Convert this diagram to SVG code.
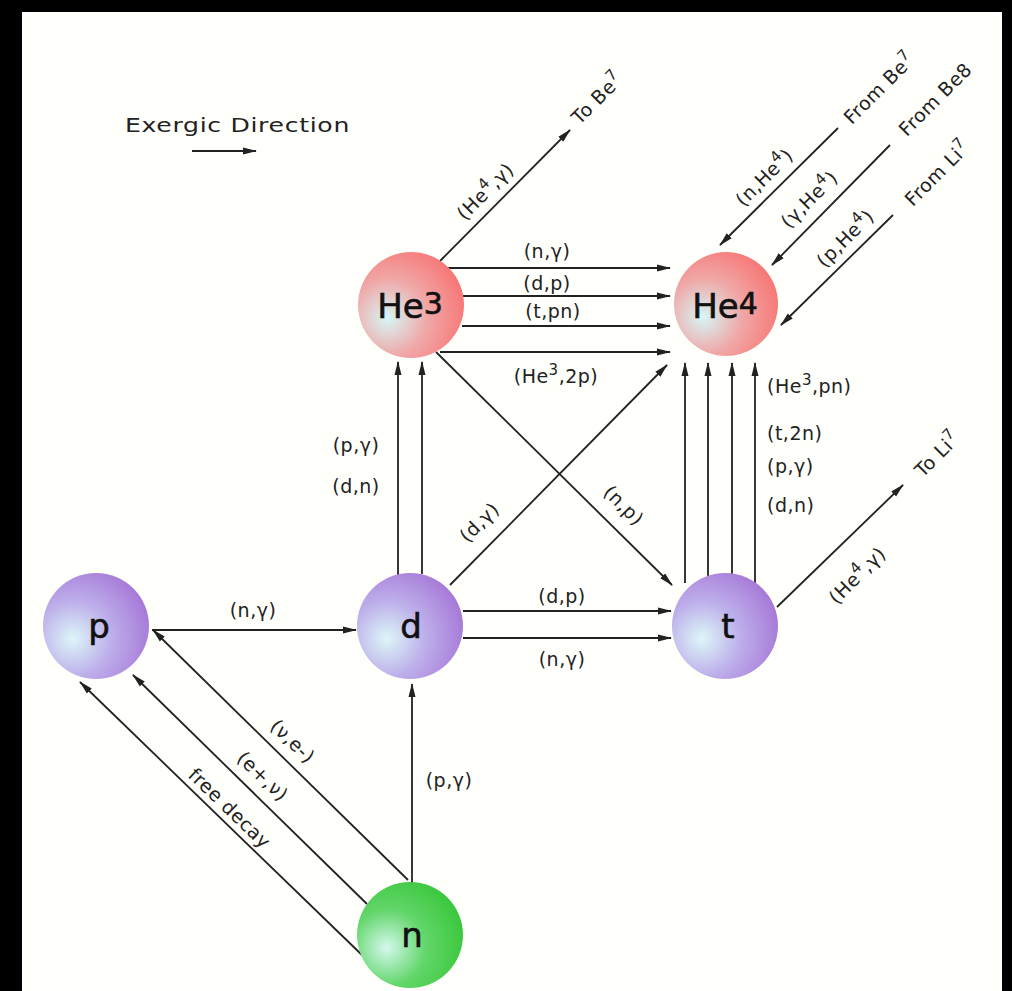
<svg xmlns="http://www.w3.org/2000/svg" width="1012" height="991" viewBox="0 0 1012 991">
<defs>
<style>
.ln{stroke:#222;stroke-width:1.8;fill:none;marker-end:url(#ah)}
.lb{font-family:"DejaVu Sans","Liberation Sans",sans-serif;font-size:19px;fill:#222;letter-spacing:0.5px}
.nd{font-family:"DejaVu Sans","Liberation Sans",sans-serif;font-size:34px;fill:#111;stroke:#111;stroke-width:0.6}
.sp{font-size:15px}
</style>
<marker id="ah" markerUnits="userSpaceOnUse" markerWidth="14" markerHeight="8" refX="13" refY="4" orient="auto">
<path d="M0,0.5 L14,4 L0,7.5 z" fill="#222"/>
</marker>
<radialGradient id="gP" cx="0.3" cy="0.62" r="0.8" fx="0.28" fy="0.62">
<stop offset="0" stop-color="#dcf6f8"/>
<stop offset="0.45" stop-color="#bdaeea"/>
<stop offset="1" stop-color="#a26fd4"/>
</radialGradient>
<radialGradient id="gR" cx="0.3" cy="0.62" r="0.8" fx="0.28" fy="0.62">
<stop offset="0" stop-color="#d6f6f6"/>
<stop offset="0.45" stop-color="#f0a8a8"/>
<stop offset="1" stop-color="#f86e6c"/>
</radialGradient>
<radialGradient id="gG" cx="0.3" cy="0.62" r="0.8" fx="0.28" fy="0.62">
<stop offset="0" stop-color="#d4f8ec"/>
<stop offset="0.45" stop-color="#62d66a"/>
<stop offset="1" stop-color="#34c434"/>
</radialGradient>
</defs>
<rect x="0" y="0" width="1012" height="991" fill="#000"/>
<rect x="22" y="12" width="980" height="979" fill="#fffffb"/>

<g id="legend">
<text class="lb" x="125" y="132" font-size="24" letter-spacing="0" textLength="225" lengthAdjust="spacingAndGlyphs">Exergic Direction</text>
<line class="ln" x1="192" y1="151" x2="256" y2="151" stroke-width="2.5"/>
</g>

<g id="connectors">
<line class="ln" x1="152" y1="630" x2="356" y2="630"/>
<line class="ln" x1="463" y1="611" x2="671" y2="611"/>
<line class="ln" x1="463" y1="638" x2="671" y2="638"/>
<line class="ln" x1="442" y1="268" x2="670" y2="268"/>
<line class="ln" x1="463" y1="296" x2="670" y2="296"/>
<line class="ln" x1="462" y1="326" x2="670" y2="326"/>
<line class="ln" x1="440" y1="352" x2="670" y2="352"/>
<line class="ln" x1="398" y1="577" x2="398" y2="362"/>
<line class="ln" x1="422" y1="574" x2="422" y2="362"/>
<line class="ln" x1="685" y1="583" x2="685" y2="363"/>
<line class="ln" x1="708" y1="576" x2="708" y2="363"/>
<line class="ln" x1="732" y1="575" x2="732" y2="363"/>
<line class="ln" x1="755" y1="583" x2="755" y2="363"/>
<line class="ln" x1="450" y1="585" x2="667" y2="365"/>
<line class="ln" x1="436" y1="352" x2="672" y2="585"/>
<line class="ln" x1="440" y1="261" x2="570" y2="130"/>
<line class="ln" x1="777" y1="607" x2="903" y2="485"/>
<line class="ln" x1="838" y1="128" x2="720" y2="245"/>
<line class="ln" x1="890" y1="145" x2="772" y2="265"/>
<line class="ln" x1="893" y1="215" x2="781" y2="325"/>
<line class="ln" x1="412" y1="883" x2="412" y2="684"/>
<line class="ln" x1="408" y1="880" x2="153" y2="630"/>
<line class="ln" x1="367" y1="904" x2="133" y2="675"/>
<line class="ln" x1="362" y1="955" x2="80" y2="682"/>
</g>

<g id="labels">
<text class="lb" x="253" y="617" text-anchor="middle">(n,γ)</text>
<text class="lb" x="562" y="603" text-anchor="middle">(d,p)</text>
<text class="lb" x="562" y="666" text-anchor="middle">(n,γ)</text>
<text class="lb" x="547" y="258" text-anchor="middle">(n,γ)</text>
<text class="lb" x="547" y="290" text-anchor="middle">(d,p)</text>
<text class="lb" x="553" y="318" text-anchor="middle">(t,pn)</text>
<text class="lb" x="556" y="383" text-anchor="middle">(He<tspan class="sp" dy="-8">3</tspan><tspan dy="8">,2p)</tspan></text>
<text class="lb" x="356" y="452" text-anchor="middle">(p,γ)</text>
<text class="lb" x="356" y="493" text-anchor="middle">(d,n)</text>
<text class="lb" x="767" y="393">(He<tspan class="sp" dy="-8">3</tspan><tspan dy="8">,pn)</tspan></text>
<text class="lb" x="767" y="440">(t,2n)</text>
<text class="lb" x="767" y="473">(p,γ)</text>
<text class="lb" x="767" y="512">(d,n)</text>
<text class="lb" transform="translate(484,527) rotate(-45)" text-anchor="middle">(d,γ)</text>
<text class="lb" transform="translate(619,510) rotate(45)" text-anchor="middle">(n,p)</text>
<text class="lb" transform="translate(490,196) rotate(-45)" text-anchor="middle">(He<tspan class="sp" dy="-8">4</tspan><tspan dy="8">,γ)</tspan></text>
<text class="lb" transform="translate(602,103) rotate(-45)" text-anchor="middle">To Be<tspan class="sp" dy="-8">7</tspan></text>
<text class="lb" transform="translate(862,580) rotate(-45)" text-anchor="middle">(He<tspan class="sp" dy="-8">4</tspan><tspan dy="8">,γ)</tspan></text>
<text class="lb" transform="translate(942,459) rotate(-45)" text-anchor="middle">To Li<tspan class="sp" dy="-8">7</tspan></text>
<text class="lb" transform="translate(769,182) rotate(-45)" text-anchor="middle">(n,He<tspan class="sp" dy="-8">4</tspan><tspan dy="8">)</tspan></text>
<text class="lb" transform="translate(884,93) rotate(-45)" text-anchor="middle">From Be<tspan class="sp" dy="-8">7</tspan></text>
<text class="lb" transform="translate(814,204) rotate(-45)" text-anchor="middle">(γ,He<tspan class="sp" dy="-8">4</tspan><tspan dy="8">)</tspan></text>
<text class="lb" transform="translate(940,104) rotate(-45)" text-anchor="middle">From Be8</text>
<text class="lb" transform="translate(850,243) rotate(-45)" text-anchor="middle">(p,He<tspan class="sp" dy="-8">4</tspan><tspan dy="8">)</tspan></text>
<text class="lb" transform="translate(942,178) rotate(-45)" text-anchor="middle">From Li<tspan class="sp" dy="-8">7</tspan></text>
<text class="lb" x="449" y="787" text-anchor="middle">(p,γ)</text>
<text class="lb" transform="translate(288,746) rotate(44)" text-anchor="middle">(ν,e-)</text>
<text class="lb" transform="translate(258,781) rotate(44)" text-anchor="middle">(e+,ν)</text>
<text class="lb" transform="translate(225,813) rotate(44)" text-anchor="middle">free decay</text>
</g>

<g id="node-He3">
<circle cx="411" cy="305" r="53" fill="url(#gR)"/>
<text class="nd" x="410" y="318" text-anchor="middle">He<tspan dy="-4" font-size="30">3</tspan></text>
</g>
<g id="node-He4">
<circle cx="726" cy="304" r="52" fill="url(#gR)"/>
<text class="nd" x="725" y="318" text-anchor="middle">He<tspan dy="-4" font-size="30">4</tspan></text>
</g>
<g id="node-p">
<circle cx="96" cy="626" r="53" fill="url(#gP)"/>
<text class="nd" x="99" y="638" text-anchor="middle">p</text>
</g>
<g id="node-d">
<circle cx="410" cy="626" r="53" fill="url(#gP)"/>
<text class="nd" x="411" y="638" text-anchor="middle">d</text>
</g>
<g id="node-t">
<circle cx="725" cy="626" r="53" fill="url(#gP)"/>
<text class="nd" x="728" y="638" text-anchor="middle">t</text>
</g>
<g id="node-n">
<circle cx="410" cy="935" r="53" fill="url(#gG)"/>
<text class="nd" x="412" y="947" text-anchor="middle">n</text>
</g>
</svg>
